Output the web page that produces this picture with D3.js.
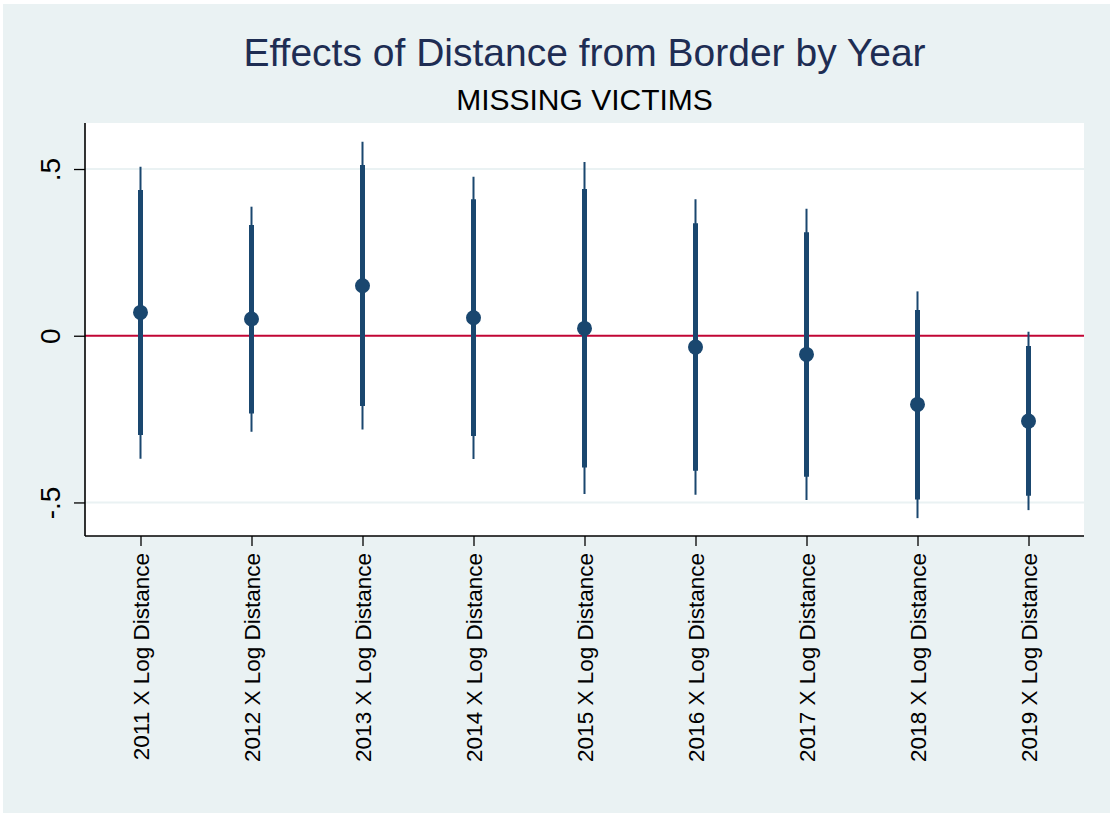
<!DOCTYPE html>
<html>
<head>
<meta charset="utf-8">
<script src="https://cdn.jsdelivr.net/npm/d3@7"></script>
<style>
  body { margin: 0; background: #ffffff; }
  text { font-family: "Liberation Sans", Arial, sans-serif; }
</style>
</head>
<body>
<div id="chart"></div>
<script>
// data
var years    = ['2011', '2012', '2013', '2014', '2015', '2016', '2017', '2018', '2019'];
var estimate = [0.070, 0.050, 0.150, 0.054, 0.022, -0.034, -0.056, -0.206, -0.256];
var ci90_lo  = [-0.298, -0.233, -0.211, -0.301, -0.395, -0.405, -0.423, -0.491, -0.480];
var ci90_hi  = [0.437, 0.332, 0.512, 0.409, 0.440, 0.337, 0.310, 0.077, -0.031];
var ci95_lo  = [-0.369, -0.288, -0.281, -0.370, -0.475, -0.477, -0.493, -0.547, -0.523];
var ci95_hi  = [0.507, 0.387, 0.582, 0.477, 0.521, 0.409, 0.381, 0.133, 0.012];
var y_ticks  = [-0.5, 0, 0.5];
var y_tick_labels = ['-.5', '0', '.5'];

var chart_width  = 1110;
var chart_height = 813;
var plot_left = 85, plot_right = 1084, plot_top = 123, plot_bottom = 536;
var navy = '#1a476f';

var data = years.map(function(y, i){
  return { label: y + ' X Log Distance', pos: i + 1, b: estimate[i],
           lo90: ci90_lo[i], hi90: ci90_hi[i], lo95: ci95_lo[i], hi95: ci95_hi[i] };
});

var svg = d3.select('#chart')
  .append('svg')
  .attr('width', chart_width)
  .attr('height', chart_height);

// background
svg.append('rect')
  .attr('x', 3).attr('y', 4)
  .attr('width', chart_width - 3).attr('height', chart_height - 4)
  .attr('fill', '#eaf2f3');

svg.append('rect')
  .attr('x', plot_left).attr('y', plot_top)
  .attr('width', plot_right - plot_left).attr('height', plot_bottom - plot_top)
  .attr('fill', '#ffffff');

// scales
var x_scale = d3.scaleLinear()
  .domain([0.5, years.length + 0.5])
  .range([plot_left, plot_right]);

var y_scale = d3.scaleLinear()
  .domain([-0.6006, 0.638])
  .range([plot_bottom, plot_top]);

// gridlines
svg.append('g')
  .selectAll('line')
  .data(y_ticks.filter(function(d){ return d !== 0; }))
  .enter()
  .append('line')
  .attr('x1', plot_left).attr('x2', plot_right)
  .attr('y1', function(d){ return y_scale(d); })
  .attr('y2', function(d){ return y_scale(d); })
  .attr('stroke', '#eaf2f3')
  .attr('stroke-width', 2);

// zero line
svg.append('line')
  .attr('x1', plot_left).attr('x2', plot_right)
  .attr('y1', y_scale(0)).attr('y2', y_scale(0))
  .attr('stroke', '#c10534')
  .attr('stroke-width', 2);

// axes
var yAxis = d3.axisLeft(y_scale)
  .tickValues(y_ticks)
  .tickFormat(function(d, i){ return y_tick_labels[i]; })
  .tickSize(11)
  .tickSizeOuter(0);

var gy = svg.append('g')
  .attr('class', 'y-axis')
  .attr('transform', 'translate(' + plot_left + ',0)')
  .call(yAxis);
gy.select('.domain').attr('stroke', '#000').attr('stroke-width', 1.6)
  .attr('d', 'M0,' + plot_top + 'V' + plot_bottom);
gy.selectAll('.tick line').attr('stroke', '#000').attr('stroke-width', 1.3);
gy.selectAll('.tick text')
  .attr('font-size', 28)
  .attr('fill', '#000')
  .attr('text-anchor', 'middle')
  .attr('x', 0)
  .attr('y', 0)
  .attr('transform', 'translate(-35,0) rotate(-90)')
  .attr('dy', '0.35em');

var xAxis = d3.axisBottom(x_scale)
  .tickValues(data.map(function(d){ return d.pos; }))
  .tickFormat(function(d){ return data[d - 1].label; })
  .tickSize(10)
  .tickSizeOuter(0);

var gx = svg.append('g')
  .attr('class', 'x-axis')
  .attr('transform', 'translate(0,' + plot_bottom + ')')
  .call(xAxis);
gx.select('.domain').attr('stroke', '#000').attr('stroke-width', 1.6)
  .attr('d', 'M' + plot_left + ',0H' + plot_right);
gx.selectAll('.tick line').attr('stroke', '#000').attr('stroke-width', 1.3);
gx.selectAll('.tick text')
  .attr('font-size', 22.5)
  .attr('fill', '#000')
  .attr('text-anchor', 'end')
  .attr('x', 0)
  .attr('y', 0)
  .attr('transform', 'translate(0,17) rotate(-90)')
  .attr('dy', '0.35em');

// confidence intervals
var marks = svg.append('g');

marks.selectAll('line.ci95')
  .data(data)
  .enter()
  .append('line')
  .attr('class', 'ci95')
  .attr('x1', function(d){ return x_scale(d.pos); })
  .attr('x2', function(d){ return x_scale(d.pos); })
  .attr('y1', function(d){ return y_scale(d.lo95); })
  .attr('y2', function(d){ return y_scale(d.hi95); })
  .attr('stroke', navy)
  .attr('stroke-width', 2);

marks.selectAll('line.ci90')
  .data(data)
  .enter()
  .append('line')
  .attr('class', 'ci90')
  .attr('x1', function(d){ return x_scale(d.pos); })
  .attr('x2', function(d){ return x_scale(d.pos); })
  .attr('y1', function(d){ return y_scale(d.lo90); })
  .attr('y2', function(d){ return y_scale(d.hi90); })
  .attr('stroke', navy)
  .attr('stroke-width', 5);

marks.selectAll('circle')
  .data(data)
  .enter()
  .append('circle')
  .attr('cx', function(d){ return x_scale(d.pos); })
  .attr('cy', function(d){ return y_scale(d.b); })
  .attr('r', 7.5)
  .attr('fill', navy);

// titles
svg.append('text')
  .attr('x', (plot_left + plot_right) / 2)
  .attr('y', 66)
  .attr('text-anchor', 'middle')
  .attr('font-size', 39)
  .attr('fill', '#1e2d53')
  .text('Effects of Distance from Border by Year');

svg.append('text')
  .attr('x', (plot_left + plot_right) / 2)
  .attr('y', 110)
  .attr('text-anchor', 'middle')
  .attr('font-size', 30)
  .attr('fill', '#000')
  .text('MISSING VICTIMS');
</script>
</body>
</html>
